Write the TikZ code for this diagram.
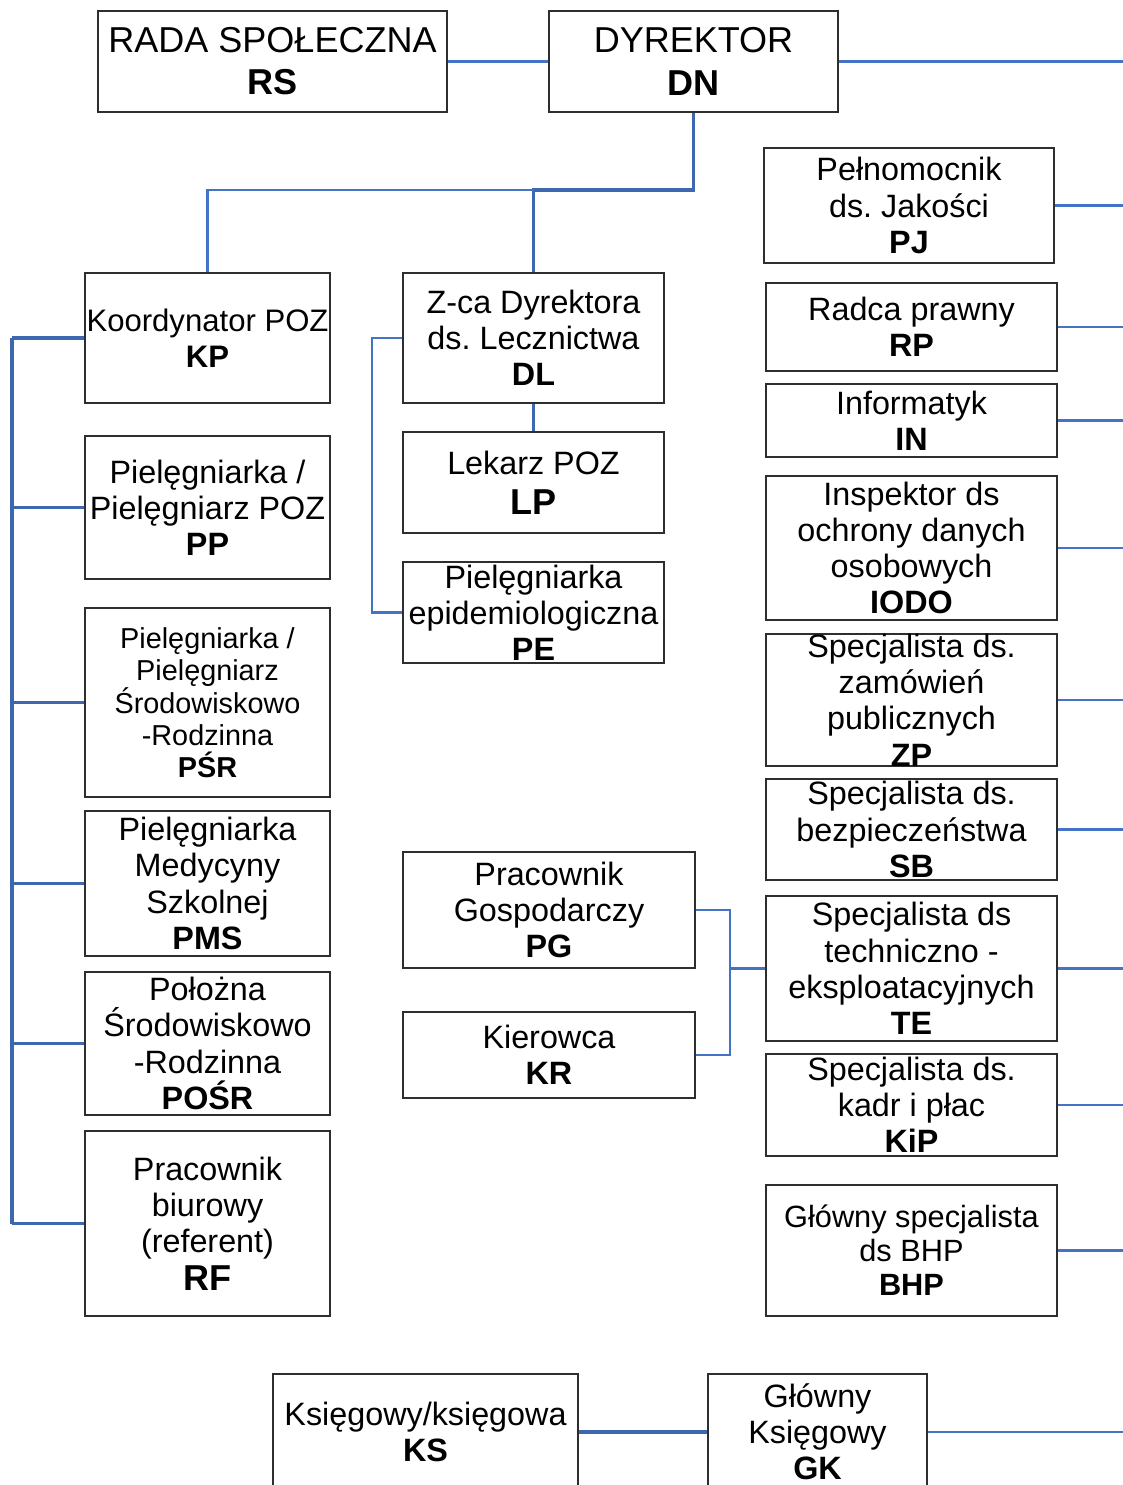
\documentclass[tikz,border=0pt]{standalone}
\usepackage{fontspec}
\setmainfont{Liberation Sans}
\usepackage{tikz}
\usepackage{xcolor}
\definecolor{linkblue}{HTML}{4472C4}
\definecolor{busblue}{HTML}{3D68B0}
\definecolor{edgegray}{HTML}{2E2E2E}
\frenchspacing

\begin{document}
\begin{tikzpicture}[x=0.02cm,y=-0.02cm,line cap=butt,
  box/.style={draw=edgegray,line width=1.1pt,fill=white,align=center,inner sep=0pt,
    font=\fontsize{18.4}{20.6}\selectfont},
  wh/.style 2 args={minimum width=#1*0.02cm,minimum height=#2*0.02cm},
  link/.style={draw=linkblue,line width=1.3pt},
  link2/.style={draw=busblue,line width=1.5pt},
  bus/.style={draw=busblue,line width=2pt}]
\useasboundingbox (0,0) rectangle (1123,1485);
\clip (0,0) rectangle (1123,1485);
\coordinate (rbus) at (1130,0);
\coordinate (lbus) at (12,0);
\coordinate (split) at (0,190);
\coordinate (joint) at (730,0);
\node[box,wh={349}{101},font=\fontsize{20.5}{24}\selectfont] (RS) at (272.5,61.5) {RADA SPOŁECZNA\\\textbf{RS}};
\node[box,wh={289}{101},font=\fontsize{20.5}{24}\selectfont] (DN) at (693.5,61.5) {DYREKTOR\\\textbf{DN}};
\node[box,wh={290}{115}] (PJ) at (909,205.5) {Pełnomocnik\\ds. Jakości\\\textbf{PJ}};
\node[box,wh={291}{88}] (RP) at (911.5,327) {Radca prawny\\\textbf{RP}};
\node[box,wh={291}{73}] (IN) at (911.5,420.5) {Informatyk\\\textbf{IN}};
\node[box,wh={291}{144}] (IODO) at (911.5,548) {Inspektor ds\\ochrony danych\\osobowych\\\textbf{IODO}};
\node[box,wh={291}{130}] (ZP) at (911.5,700) {Specjalista ds.\\zamówień\\publicznych\\\textbf{ZP}};
\node[box,wh={291}{101}] (SB) at (911.5,829.5) {Specjalista ds.\\bezpieczeństwa\\\textbf{SB}};
\node[box,wh={291}{145}] (TE) at (911.5,968.5) {Specjalista ds\\techniczno -\\eksploatacyjnych\\\textbf{TE}};
\node[box,wh={291}{102}] (KiP) at (911.5,1105) {Specjalista ds.\\kadr i płac\\\textbf{KiP}};
\node[box,wh={291}{131},font=\fontsize{17.5}{19.3}\selectfont] (BHP) at (911.5,1250.5) {Główny specjalista\\ds BHP\\\textbf{BHP}};
\node[box,wh={245}{130},inner xsep=-4pt,font=\fontsize{17.7}{20.6}\selectfont] (KP) at (207.5,338) {Koordynator POZ\\\textbf{KP}};
\node[box,wh={245}{143}] (PP) at (207.5,507.5) {Pielęgniarka /\\Pielęgniarz POZ\\\textbf{PP}};
\node[box,wh={245}{189},font=\fontsize{16.4}{18.1}\selectfont] (PSR) at (207.5,702.5) {Pielęgniarka /\\Pielęgniarz\\Środowiskowo\\-Rodzinna\\\textbf{PŚR}};
\node[box,wh={245}{145}] (PMS) at (207.5,883.5) {Pielęgniarka\\Medycyny\\Szkolnej\\\textbf{PMS}};
\node[box,wh={245}{143}] (POSR) at (207.5,1043.5) {Położna\\Środowiskowo\\-Rodzinna\\\textbf{POŚR}};
\node[box,wh={245}{185}] (RF) at (207.5,1223.5) {Pracownik\\biurowy\\(referent)\\[1pt]{\fontsize{20.5}{22}\selectfont\bfseries RF}};
\node[box,wh={261}{130}] (DL) at (533.5,338) {Z-ca Dyrektora\\ds. Lecznictwa\\\textbf{DL}};
\node[box,wh={261}{101}] (LP) at (533.5,482.5) {Lekarz POZ\\[2pt]{\fontsize{20.5}{22}\selectfont\bfseries LP}};
\node[box,wh={261}{101}] (PE) at (533.5,612.5) {Pielęgniarka\\epidemiologiczna\\\textbf{PE}};
\node[box,wh={292}{116}] (PG) at (549,910) {Pracownik\\Gospodarczy\\\textbf{PG}};
\node[box,wh={292}{86}] (KR) at (549,1055) {Kierowca\\\textbf{KR}};
\node[box,wh={305}{116}] (KS) at (425.5,1432) {Księgowy/księgowa\\\textbf{KS}};
\node[box,wh={219}{116}] (GK) at (817.5,1432) {Główny\\Księgowy\\\textbf{GK}};
\draw[link] (RS) -- (DN);
\draw[bus] (DN.south) -- (DN.south |- split) -- (DL.north |- split) -- (DL.north);
\draw[link] (DL.north |- split) -- (KP.north |- split) -- (KP.north);
\draw[link2] (DL) -- (LP);
\draw[link] (DL.west) -- ++(-30,0) |- (PE.west);
\draw[bus,line width=2.8pt] (KP.west) -- (KP.west -| lbus);
\draw[bus] (KP.west -| lbus) -- (RF.west -| lbus);
\foreach \n in {PP,PSR,PMS,POSR,RF}
  \draw[link2] (\n.west) -- (\n.west -| lbus);
\foreach \n in {DN,PJ,RP,IN,IODO,ZP,SB,TE,KiP,BHP,GK}
  \draw[link] (\n.east) -- (\n.east -| rbus);
\draw[link] (PG.east) -| (joint |- KR.east) -- (KR.east);
\draw[link] (TE.west) -- (TE.west -| joint);
\draw[bus] (KS) -- (GK);
\end{tikzpicture}
\end{document}
